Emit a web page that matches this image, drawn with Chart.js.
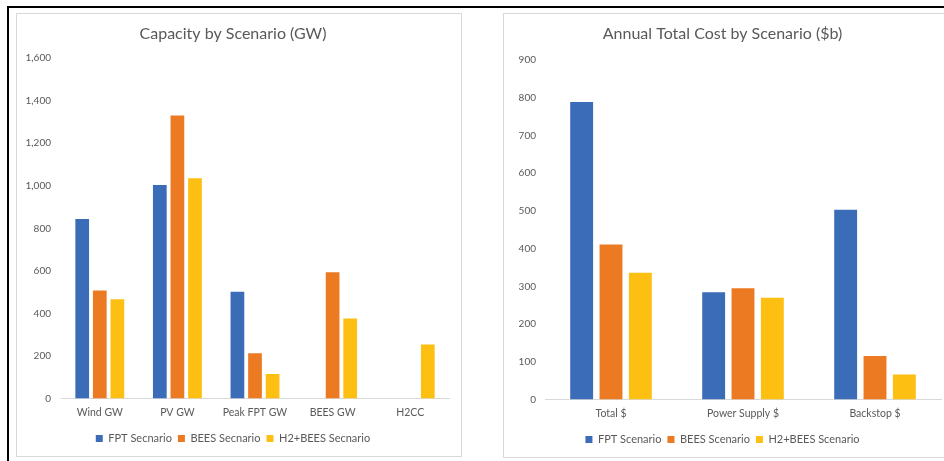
<!DOCTYPE html>
<html>
<head>
<meta charset="utf-8">
<script src="https://cdn.jsdelivr.net/npm/chart.js@4"></script>
<style>
  html, body { margin: 0; padding: 0; background: #fff; overflow: hidden; }
  body { width: 944px; height: 461px; position: relative; }
  .frame { position: absolute; left: 7px; top: 6px; width: 1000px; height: 1000px; border: 2px solid #000; }
  .panel { position: absolute; border: 1px solid #d9d9d9; background: #fff; }
  #left  { left: 16px;  top: 13px; width: 444px; height: 442px; }
  #right { left: 503px; top: 13px; width: 460px; height: 443px; }
  canvas { display: block; }
</style>
</head>
<body>
<div class="frame"></div>
<div class="panel" id="left"><canvas id="capChart" width="444" height="442"></canvas></div>
<div class="panel" id="right"><canvas id="costChart" width="441" height="443"></canvas></div>
<script>
const scenarioNamesCap  = ['FPT Secnario', 'BEES Secnario', 'H2+BEES Secnario'];
const scenarioNamesCost = ['FPT Scenario', 'BEES Scenario', 'H2+BEES Scenario'];
const colors = ['#3a6cb7', '#ec7a23', '#fdbf12'];

const capCategories = ['Wind GW', 'PV GW', 'Peak FPT GW', 'BEES GW', 'H2CC'];
const capFPT    = [844, 1004, 501, 0, 0];
const capBEES   = [507, 1330, 212, 593, 0];
const capH2BEES = [466, 1035, 115, 376, 253];

const costCategories = ['Total $', 'Power Supply $', 'Backstop $'];
const costFPT    = [789, 284, 503];
const costBEES   = [411, 295, 115];
const costH2BEES = [336, 270, 66];

const FONT = 'Lato, "Open Sans", sans-serif';
const GREY = '#595959';

function makeChart(id, opts) {
    const series = [opts.fpt, opts.bees, opts.h2];
    return new Chart(document.getElementById(id), {
        type: 'bar',
        data: {
            labels: opts.labels,
            datasets: series.map((d, i) => ({
                label: opts.names[i],
                data: d,
                backgroundColor: colors[i],
                borderWidth: 0,
                categoryPercentage: opts.catPct,
                barPercentage: 0.78,
            })),
        },
        options: {
            responsive: false,
            animation: false,
            layout: { padding: { left: 0, right: opts.padRight, top: 0, bottom: 2 } },
            plugins: {
                title: {
                    display: true,
                    text: opts.title,
                    color: GREY,
                    font: { family: FONT, size: 16, weight: 'normal' },
                    padding: { top: 10, bottom: opts.titleGap },
                },
                legend: {
                    position: 'bottom',
                    labels: {
                        boxWidth: 7,
                        boxHeight: 7,
                        padding: 6,
                        color: GREY,
                        font: { family: FONT, size: 11 },
                    },
                },
                tooltip: { enabled: false },
            },
            scales: {
                x: {
                    grid: { display: false, drawTicks: false },
                    border: { display: true, color: '#d9d9d9' },
                    ticks: { color: GREY, font: { family: FONT, size: 10.5 }, padding: 8 },
                },
                y: {
                    min: 0,
                    max: opts.max,
                    grid: { display: false, drawTicks: false },
                    border: { display: false },
                    ticks: {
                        stepSize: opts.step,
                        color: GREY,
                        padding: opts.tickPad,
                        font: { family: FONT, size: 10 },
                        callback: (v) => v.toLocaleString('en-US'),
                    },
                    afterFit: (scale) => { scale.width = opts.yWidth; },
                },
            },
        },
    });
}

makeChart('capChart', {
    labels: capCategories,
    names: scenarioNamesCap,
    fpt: capFPT, bees: capBEES, h2: capH2BEES,
    title: 'Capacity by Scenario (GW)',
    max: 1600, step: 200,
    catPct: 0.68,
    yWidth: 44, tickPad: 10, padRight: 12, titleGap: 15,
});

makeChart('costChart', {
    labels: costCategories,
    names: scenarioNamesCost,
    fpt: costFPT, bees: costBEES, h2: costH2BEES,
    title: 'Annual Total Cost by Scenario ($b)',
    max: 900, step: 100,
    catPct: 0.667,
    yWidth: 41, tickPad: 9, padRight: 4, titleGap: 17,
});
</script>
</body>
</html>
